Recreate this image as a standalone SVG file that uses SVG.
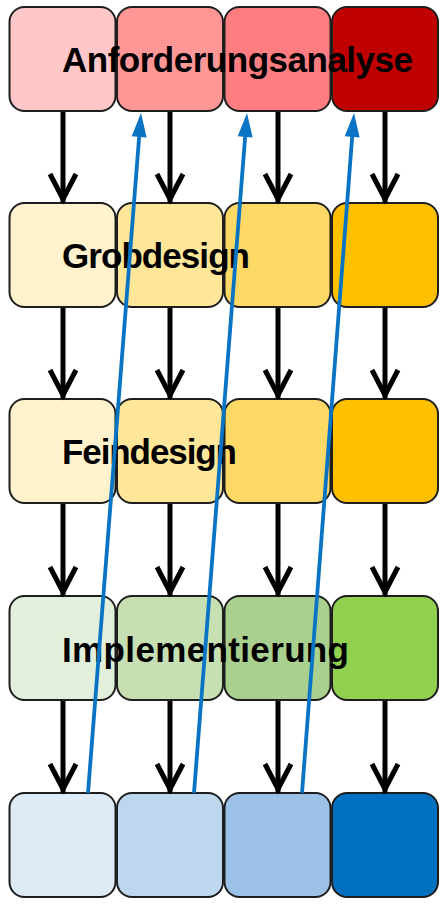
<svg xmlns="http://www.w3.org/2000/svg" width="444" height="906" viewBox="0 0 444 906">
<style>
.box{stroke:#1e1e1e;stroke-width:2}
.lbl{font-family:"Liberation Sans",Arial,sans-serif;font-weight:bold;font-size:35px;fill:#000}
.flow{stroke:#000;stroke-width:5;fill:none}
.back{stroke:#0a74c4;stroke-width:3.8;fill:none}
</style>
<defs>
<marker id="chev" markerUnits="userSpaceOnUse" viewBox="-34 -18 40 36" markerWidth="40" markerHeight="36" refX="0" refY="0" orient="auto">
<path d="M-29,-13 L-4,0 L-29,13" fill="none" stroke="#000" stroke-width="5" stroke-linejoin="miter"/>
</marker>
<marker id="tri" markerUnits="userSpaceOnUse" viewBox="-6 -9 28 18" markerWidth="28" markerHeight="18" refX="0" refY="0" orient="auto">
<path d="M-4,-7.5 L20,0 L-4,7.5 Z" fill="#0a74c4"/>
</marker>
</defs>
<rect width="444" height="906" fill="#fff"/>
<g id="nodes">
<g id="n-1-1"><rect class="box" x="9.5" y="7" width="106" height="104" rx="15" fill="#FFC7C7"/></g>
<g id="n-1-2"><rect class="box" x="117" y="7" width="106" height="104" rx="15" fill="#FF9797"/></g>
<g id="n-1-3"><rect class="box" x="224.5" y="7" width="106" height="104" rx="15" fill="#FF7C80"/></g>
<g id="n-1-4"><rect class="box" x="332" y="7" width="106" height="104" rx="15" fill="#C00000"/></g>

<g id="n-2-1"><rect class="box" x="9.5" y="203" width="106" height="104" rx="15" fill="#FFF2CC"/></g>
<g id="n-2-2"><rect class="box" x="117" y="203" width="106" height="104" rx="15" fill="#FFE699"/></g>
<g id="n-2-3"><rect class="box" x="224.5" y="203" width="106" height="104" rx="15" fill="#FFD966"/></g>
<g id="n-2-4"><rect class="box" x="332" y="203" width="106" height="104" rx="15" fill="#FFC000"/></g>

<g id="n-3-1"><rect class="box" x="9.5" y="399" width="106" height="104" rx="15" fill="#FFF2CC"/></g>
<g id="n-3-2"><rect class="box" x="117" y="399" width="106" height="104" rx="15" fill="#FFE699"/></g>
<g id="n-3-3"><rect class="box" x="224.5" y="399" width="106" height="104" rx="15" fill="#FFD966"/></g>
<g id="n-3-4"><rect class="box" x="332" y="399" width="106" height="104" rx="15" fill="#FFC000"/></g>

<g id="n-4-1"><rect class="box" x="9.5" y="596" width="106" height="104" rx="15" fill="#E2EFDA"/></g>
<g id="n-4-2"><rect class="box" x="117" y="596" width="106" height="104" rx="15" fill="#C6E0B4"/></g>
<g id="n-4-3"><rect class="box" x="224.5" y="596" width="106" height="104" rx="15" fill="#A9D08E"/></g>
<g id="n-4-4"><rect class="box" x="332" y="596" width="106" height="104" rx="15" fill="#92D050"/></g>

<g id="n-5-1"><rect class="box" x="9.5" y="793" width="106" height="104" rx="15" fill="#DDEBF7"/></g>
<g id="n-5-2"><rect class="box" x="117" y="793" width="106" height="104" rx="15" fill="#BDD7EE"/></g>
<g id="n-5-3"><rect class="box" x="224.5" y="793" width="106" height="104" rx="15" fill="#9BC2E6"/></g>
<g id="n-5-4"><rect class="box" x="332" y="793" width="106" height="104" rx="15" fill="#0070C0"/></g>
</g>
<g id="labels">
<text class="lbl" x="62" y="72" textLength="351">Anforderungsanalyse</text>
<text class="lbl" x="62" y="268" textLength="188">Grobdesign</text>
<text class="lbl" x="62" y="464" textLength="175">Feindesign</text>
<text class="lbl" x="62" y="662" textLength="287">Implementierung</text>
</g>
<g id="connectors">
<line class="flow" x1="63" y1="112" x2="63" y2="203" marker-end="url(#chev)"/>
<line class="flow" x1="170" y1="112" x2="170" y2="203" marker-end="url(#chev)"/>
<line class="flow" x1="278" y1="112" x2="278" y2="203" marker-end="url(#chev)"/>
<line class="flow" x1="385" y1="112" x2="385" y2="203" marker-end="url(#chev)"/>

<line class="flow" x1="63" y1="308" x2="63" y2="399" marker-end="url(#chev)"/>
<line class="flow" x1="170" y1="308" x2="170" y2="399" marker-end="url(#chev)"/>
<line class="flow" x1="278" y1="308" x2="278" y2="399" marker-end="url(#chev)"/>
<line class="flow" x1="385" y1="308" x2="385" y2="399" marker-end="url(#chev)"/>

<line class="flow" x1="63" y1="504" x2="63" y2="596" marker-end="url(#chev)"/>
<line class="flow" x1="170" y1="504" x2="170" y2="596" marker-end="url(#chev)"/>
<line class="flow" x1="278" y1="504" x2="278" y2="596" marker-end="url(#chev)"/>
<line class="flow" x1="385" y1="504" x2="385" y2="596" marker-end="url(#chev)"/>

<line class="flow" x1="63" y1="701" x2="63" y2="793" marker-end="url(#chev)"/>
<line class="flow" x1="170" y1="701" x2="170" y2="793" marker-end="url(#chev)"/>
<line class="flow" x1="278" y1="701" x2="278" y2="793" marker-end="url(#chev)"/>
<line class="flow" x1="385" y1="701" x2="385" y2="793" marker-end="url(#chev)"/>

<line class="back" x1="88" y1="793" x2="139.45" y2="132.94" marker-end="url(#tri)"/>
<line class="back" x1="194" y1="793" x2="245.45" y2="132.94" marker-end="url(#tri)"/>
<line class="back" x1="302" y1="793" x2="352.48" y2="132.94" marker-end="url(#tri)"/>
</g>
</svg>
